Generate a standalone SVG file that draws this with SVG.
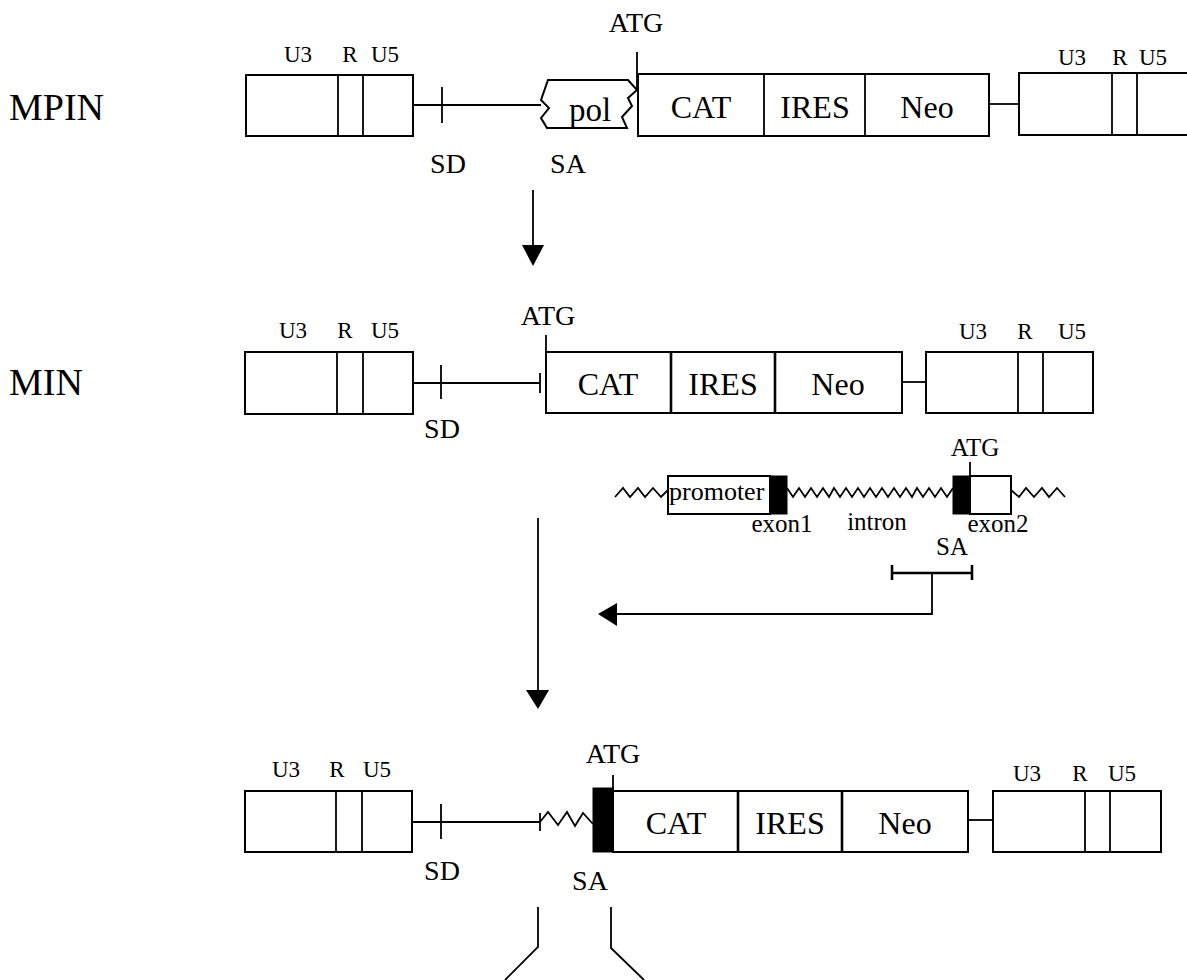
<svg xmlns="http://www.w3.org/2000/svg" width="1187" height="980" viewBox="0 0 1187 980">
<style>
text{font-family:"Liberation Serif","Times New Roman",serif;fill:#000}
.big{font-size:38px}
.gene{font-size:32px;text-anchor:middle}
.lbl{font-size:28px;text-anchor:middle}
.ltr{font-size:23px;text-anchor:middle}
.sm{font-size:25px;text-anchor:middle}
.box{fill:#fff;stroke:#000;stroke-width:2}
.ln{fill:none;stroke:#000;stroke-width:1.8}
.blk{fill:#000;stroke:#000;stroke-width:1}
</style>
<rect width="1187" height="980" fill="#fff"/>

<!-- Row 1: MPIN -->
<g id="mpin">
  <text class="big" x="9" y="120">MPIN</text>
  <g id="mpin-ltr5">
    <rect class="box" x="246" y="75" width="167" height="61"/>
    <line class="ln" x1="338" y1="75" x2="338" y2="136"/>
    <line class="ln" x1="363" y1="75" x2="363" y2="136"/>
    <text class="ltr" x="298" y="62">U3</text>
    <text class="ltr" x="350" y="62">R</text>
    <text class="ltr" x="385" y="62">U5</text>
  </g>
  <g id="mpin-sd">
    <line class="ln" x1="413" y1="105" x2="541" y2="105"/>
    <line class="ln" x1="442" y1="87" x2="442" y2="123"/>
    <text class="lbl" x="448" y="173">SD</text>
    <text class="lbl" x="568" y="173">SA</text>
  </g>
  <g id="mpin-pol">
    <path class="box" d="M548,80 L628,80 L637,90 L628,98 L632,106 L622,117 L627,128 L547,128 L541,118 L549,108 L541,100 Z"/>
    <text x="590" y="121" style="font-size:33px;text-anchor:middle">pol</text>
  </g>
  <g id="mpin-cassette">
    <rect class="box" x="638" y="74" width="351" height="62"/>
    <line class="ln" x1="764" y1="74" x2="764" y2="136"/>
    <line class="ln" x1="865" y1="74" x2="865" y2="136"/>
    <line class="ln" x1="637" y1="52" x2="637" y2="90"/>
    <text class="lbl" x="636" y="32">ATG</text>
    <text class="gene" x="701" y="118">CAT</text>
    <text class="gene" x="815" y="118">IRES</text>
    <text class="gene" x="927" y="118">Neo</text>
  </g>
  <line class="ln" x1="989" y1="104" x2="1019" y2="104"/>
  <g id="mpin-ltr3">
    <rect class="box" x="1019" y="73" width="190" height="62"/>
    <line class="ln" x1="1112" y1="73" x2="1112" y2="135"/>
    <line class="ln" x1="1137" y1="73" x2="1137" y2="135"/>
    <text class="ltr" x="1072" y="65">U3</text>
    <text class="ltr" x="1120" y="65">R</text>
    <text class="ltr" x="1153" y="65">U5</text>
  </g>
</g>

<!-- Row 2: MIN -->
<g id="min">
  <text class="big" x="9" y="395">MIN</text>
  <g id="min-ltr5">
    <rect class="box" x="245" y="352" width="168" height="62"/>
    <line class="ln" x1="337" y1="352" x2="337" y2="414"/>
    <line class="ln" x1="363" y1="352" x2="363" y2="414"/>
    <text class="ltr" x="293" y="338">U3</text>
    <text class="ltr" x="345" y="338">R</text>
    <text class="ltr" x="385" y="338">U5</text>
  </g>
  <g id="min-sd">
    <line class="ln" x1="413" y1="383" x2="540" y2="383"/>
    <line class="ln" x1="441" y1="365" x2="441" y2="399"/>
    <line class="ln" x1="540" y1="373" x2="540" y2="393"/>
    <text class="lbl" x="442" y="438">SD</text>
  </g>
  <g id="min-cassette">
    <rect class="box" x="546" y="352" width="356" height="61"/>
    <line class="ln" x1="671" y1="352" x2="671" y2="413" style="stroke-width:2.6"/>
    <line class="ln" x1="775" y1="352" x2="775" y2="413" style="stroke-width:2.6"/>
    <line class="ln" x1="546" y1="335" x2="546" y2="352"/>
    <text class="lbl" x="548" y="325">ATG</text>
    <text class="gene" x="608" y="395">CAT</text>
    <text class="gene" x="723" y="395">IRES</text>
    <text class="gene" x="838" y="395">Neo</text>
  </g>
  <line class="ln" x1="902" y1="382" x2="926" y2="382"/>
  <g id="min-ltr3">
    <rect class="box" x="926" y="352" width="167" height="61"/>
    <line class="ln" x1="1018" y1="352" x2="1018" y2="413"/>
    <line class="ln" x1="1043" y1="352" x2="1043" y2="413"/>
    <text class="ltr" x="973" y="339">U3</text>
    <text class="ltr" x="1025" y="339">R</text>
    <text class="ltr" x="1072" y="339">U5</text>
  </g>
</g>

<!-- Cellular gene -->
<g id="cellular-gene">
  <path class="ln" d="M615,497 L623,488 L630,497 L638,488 L645,497 L653,488 L661,497 L668,490"/>
  <rect class="box" x="668" y="476" width="102" height="38"/>
  <text x="669" y="500" style="font-size:26px">promoter</text>
  <rect class="blk" x="770" y="476" width="17" height="38"/>
  <path class="ln" d="M787,488 L793,497 L799,488 L805,497 L811,488 L817,497 L823,488 L829,497 L834,488 L840,497 L846,488 L852,497 L858,488 L864,497 L870,488 L876,497 L882,488 L888,497 L894,488 L900,497 L906,488 L912,497 L917,488 L923,497 L929,488 L935,497 L941,488 L947,497 L953,488"/>
  <rect class="blk" x="953" y="476" width="17" height="38"/>
  <rect class="box" x="970" y="476" width="41" height="38"/>
  <path class="ln" d="M1011,490 L1019,497 L1026,488 L1034,497 L1042,488 L1049,497 L1057,488 L1065,497"/>
  <line class="ln" x1="970" y1="462" x2="970" y2="476"/>
  <text class="sm" x="975" y="456">ATG</text>
  <text class="sm" x="782" y="532">exon1</text>
  <text class="sm" x="877" y="530">intron</text>
  <text class="sm" x="998" y="532">exon2</text>
  <text class="sm" x="952" y="555">SA</text>
  <g id="sa-fragment">
    <line x1="892" y1="573" x2="972" y2="573" stroke="#000" stroke-width="2.6"/>
    <line x1="892" y1="565" x2="892" y2="580" stroke="#000" stroke-width="2.6"/>
    <line x1="972" y1="565" x2="972" y2="580" stroke="#000" stroke-width="2.6"/>
  </g>
</g>

<!-- Row 3: trapped -->
<g id="trapped">
  <g id="trap-ltr5">
    <rect class="box" x="245" y="791" width="167" height="61"/>
    <line class="ln" x1="336" y1="791" x2="336" y2="852"/>
    <line class="ln" x1="362" y1="791" x2="362" y2="852"/>
    <text class="ltr" x="286" y="777">U3</text>
    <text class="ltr" x="337" y="777">R</text>
    <text class="ltr" x="377" y="777">U5</text>
  </g>
  <g id="trap-sd">
    <line class="ln" x1="412" y1="822" x2="540" y2="822"/>
    <line class="ln" x1="441" y1="804" x2="441" y2="839"/>
    <line class="ln" x1="540" y1="813" x2="540" y2="831"/>
    <path class="ln" d="M540,822 L548,812 L558,825 L567,812 L575,826 L583,813 L593,824"/>
    <text class="lbl" x="442" y="880">SD</text>
  </g>
  <g id="trap-cassette">
    <rect class="blk" x="593" y="788" width="20" height="64"/>
    <rect class="box" x="613" y="791" width="355" height="61"/>
    <line class="ln" x1="738" y1="791" x2="738" y2="852" style="stroke-width:2.6"/>
    <line class="ln" x1="842" y1="791" x2="842" y2="852" style="stroke-width:2.6"/>
    <line class="ln" x1="613" y1="775" x2="613" y2="791"/>
    <text class="lbl" x="613" y="763">ATG</text>
    <text class="lbl" x="590" y="890">SA</text>
    <text class="gene" x="676" y="834">CAT</text>
    <text class="gene" x="790" y="834">IRES</text>
    <text class="gene" x="905" y="834">Neo</text>
  </g>
  <line class="ln" x1="968" y1="820" x2="993" y2="820"/>
  <g id="trap-ltr3">
    <rect class="box" x="993" y="791" width="168" height="61"/>
    <line class="ln" x1="1085" y1="791" x2="1085" y2="852"/>
    <line class="ln" x1="1110" y1="791" x2="1110" y2="852"/>
    <text class="ltr" x="1027" y="781">U3</text>
    <text class="ltr" x="1080" y="781">R</text>
    <text class="ltr" x="1122" y="781">U5</text>
  </g>
</g>

<!-- Connectors -->
<g id="connectors">
  <line class="ln" x1="533" y1="190" x2="533" y2="247"/>
  <polygon points="522,245 544,245 533,266" fill="#000"/>
  <line class="ln" x1="538" y1="518" x2="538" y2="692"/>
  <polygon points="526,690 549,690 538,709" fill="#000"/>
  <path class="ln" d="M932,573 L932,614 L616,614"/>
  <polygon points="617,603 617,626 598,614" fill="#000"/>
  <path class="ln" d="M538,907 L538,947 L505,980"/>
  <path class="ln" d="M611,907 L611,948 L644,980"/>
</g>
</svg>
